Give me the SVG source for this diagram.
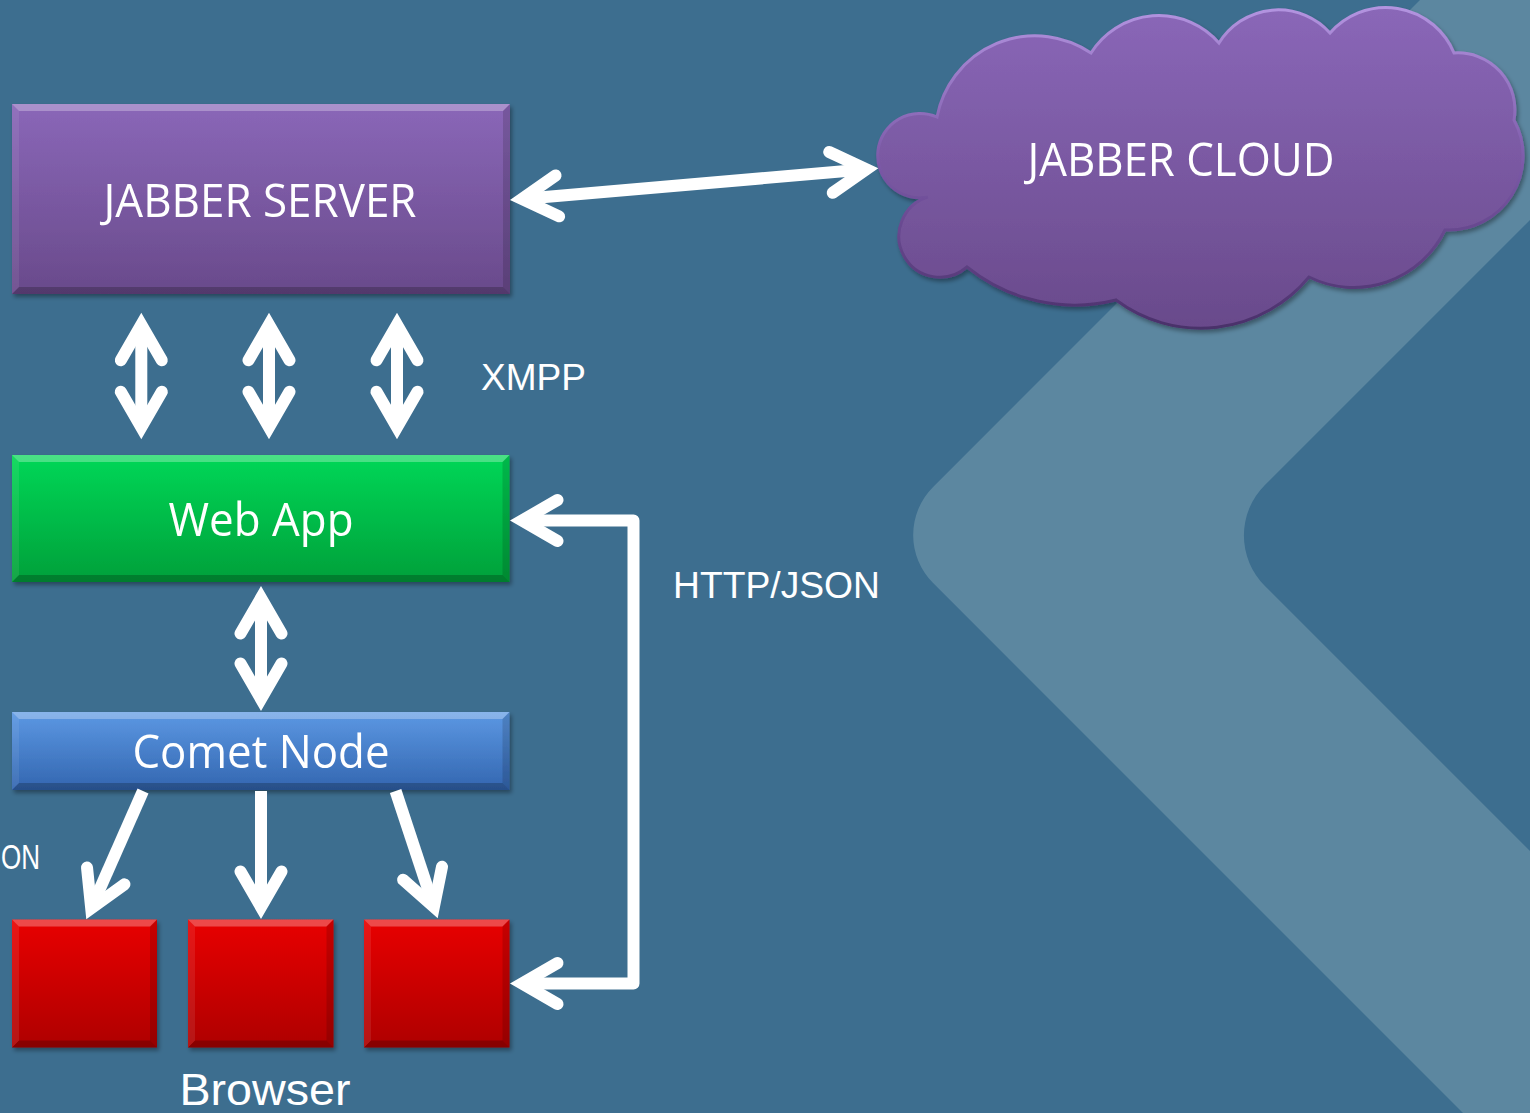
<svg xmlns="http://www.w3.org/2000/svg" width="1530" height="1113" viewBox="0 0 1530 1113">
  <defs>
    <linearGradient id="gPurple" x1="0" y1="0" x2="0" y2="1">
      <stop offset="0" stop-color="#8a67b8"/>
      <stop offset="1" stop-color="#694a8b"/>
    </linearGradient>
    <linearGradient id="gGreen" x1="0" y1="0" x2="0" y2="1">
      <stop offset="0" stop-color="#05d757"/>
      <stop offset="1" stop-color="#06a03a"/>
    </linearGradient>
    <linearGradient id="gBlue" x1="0" y1="0" x2="0" y2="1">
      <stop offset="0" stop-color="#5c98e3"/>
      <stop offset="1" stop-color="#3366b0"/>
    </linearGradient>
    <linearGradient id="gRed" x1="0" y1="0" x2="0" y2="1">
      <stop offset="0" stop-color="#e80505"/>
      <stop offset="1" stop-color="#ae0505"/>
    </linearGradient>
    <linearGradient id="gCloudEdge" x1="0" y1="0" x2="0" y2="1">
      <stop offset="0" stop-color="#b394e0"/>
      <stop offset="0.5" stop-color="#7a58a6"/>
      <stop offset="1" stop-color="#4a306a"/>
    </linearGradient>
    <filter id="shadow" x="-5%" y="-5%" width="110%" height="115%">
      <feDropShadow dx="2" dy="3" stdDeviation="2" flood-color="#000" flood-opacity="0.35"/>
    </filter>
  </defs>
  <style>
    .bg { fill: #3d6e8f; }
    .band { fill: #5c87a0; }
    .hl { fill: #ffffff; fill-opacity: 0.28; }
    .sh { fill: #000000; fill-opacity: 0.22; }
    .sl { fill: #ffffff; fill-opacity: 0.07; }
    .sr { fill: #000000; fill-opacity: 0.14; }
    .lbl { font-family: "Open Sans", "Noto Sans", "DejaVu Sans", sans-serif; fill: #ffffff; text-anchor: middle; }
    .note { font-family: "Liberation Sans", Arial, sans-serif; fill: #ffffff; }
    .shaft { fill: none; stroke: #ffffff; stroke-width: 12; stroke-linecap: butt; stroke-linejoin: round; }
    .head { fill: none; stroke: #ffffff; stroke-width: 12; stroke-linecap: round; stroke-linejoin: miter; stroke-miterlimit: 4; }
  </style>

  <rect class="bg" x="0" y="0" width="1530" height="1113"/>
  <path class="band" d="M1420,0 L933.1,486.9 A68,68 0 0 0 933.1,583.1 L1463,1113 L1530,1113 L1530,851 L1264.7,585.7 A71,71 0 0 1 1264.7,485.3 L1530,220 L1530,0 Z"/>

  <g id="jabber-server" filter="url(#shadow)">
    <rect x="12" y="104" width="498" height="190" fill="url(#gPurple)"/>
    <path class="hl" d="M12,104 H510 L503,111 H19 Z"/>
    <path class="sh" d="M12,294 H510 L503,287 H19 Z"/>
    <path class="sl" d="M12,104 L19,111 V287 L12,294 Z"/>
    <path class="sr" d="M510,104 L503,111 V287 L510,294 Z"/>
    <text class="lbl" x="260" y="216.5" font-size="46" textLength="313" lengthAdjust="spacingAndGlyphs">JABBER SERVER</text>
  </g>

  <g id="jabber-cloud" filter="url(#shadow)">
    <path d="M937,117 A99.8,99.8 0 0 1 1091,53 A80,80 0 0 1 1219,43 A69.5,69.5 0 0 1 1330,33 A73.8,73.8 0 0 1 1454,53 A57,57 0 0 1 1514,120 A74.4,74.4 0 0 1 1445,230 A101,101 0 0 1 1309,277 A140.6,140.6 0 0 1 1116,300 A170.7,170.7 0 0 1 967,267 A41,41 0 1 1 928,197 A42.2,42.2 0 1 1 937,117 Z" fill="url(#gPurple)" stroke="url(#gCloudEdge)" stroke-width="3"/>
    <text class="lbl" x="1181" y="176" font-size="45" textLength="307" lengthAdjust="spacingAndGlyphs">JABBER CLOUD</text>
  </g>

  <g id="web-app" filter="url(#shadow)">
    <rect x="12" y="455" width="497.5" height="127" fill="url(#gGreen)"/>
    <path class="hl" d="M12,455 H509.5 L502.5,462 H19 Z"/>
    <path class="sh" d="M12,582 H509.5 L502.5,575 H19 Z"/>
    <path class="sl" d="M12,455 L19,462 V575 L12,582 Z"/>
    <path class="sr" d="M509.5,455 L502.5,462 V575 L509.5,582 Z"/>
    <text class="lbl" x="261" y="536" font-size="45" textLength="185" lengthAdjust="spacingAndGlyphs">Web App</text>
  </g>

  <g id="comet-node" filter="url(#shadow)">
    <rect x="12" y="712" width="497.5" height="78" fill="url(#gBlue)"/>
    <path class="hl" d="M12,712 H509.5 L502.5,719 H19 Z"/>
    <path class="sh" d="M12,790 H509.5 L502.5,783 H19 Z"/>
    <path class="sl" d="M12,712 L19,719 V783 L12,790 Z"/>
    <path class="sr" d="M509.5,712 L502.5,719 V783 L509.5,790 Z"/>
    <text class="lbl" x="261" y="768" font-size="45" textLength="257" lengthAdjust="spacingAndGlyphs">Comet Node</text>
  </g>

  <g id="browser-1" filter="url(#shadow)">
    <rect x="12" y="919.5" width="145" height="128" fill="url(#gRed)"/>
    <path class="hl" d="M12,919.5 H157 L150,926.5 H19 Z"/>
    <path class="sh" d="M12,1047.5 H157 L150,1040.5 H19 Z"/>
    <path class="sl" d="M12,919.5 L19,926.5 V1040.5 L12,1047.5 Z"/>
    <path class="sr" d="M157,919.5 L150,926.5 V1040.5 L157,1047.5 Z"/>
  </g>
  <g id="browser-2" filter="url(#shadow)">
    <rect x="188" y="919.5" width="145.5" height="128" fill="url(#gRed)"/>
    <path class="hl" d="M188,919.5 H333.5 L326.5,926.5 H195 Z"/>
    <path class="sh" d="M188,1047.5 H333.5 L326.5,1040.5 H195 Z"/>
    <path class="sl" d="M188,919.5 L195,926.5 V1040.5 L188,1047.5 Z"/>
    <path class="sr" d="M333.5,919.5 L326.5,926.5 V1040.5 L333.5,1047.5 Z"/>
  </g>
  <g id="browser-3" filter="url(#shadow)">
    <rect x="364" y="919.5" width="145.5" height="128" fill="url(#gRed)"/>
    <path class="hl" d="M364,919.5 H509.5 L502.5,926.5 H371 Z"/>
    <path class="sh" d="M364,1047.5 H509.5 L502.5,1040.5 H371 Z"/>
    <path class="sl" d="M364,919.5 L371,926.5 V1040.5 L364,1047.5 Z"/>
    <path class="sr" d="M509.5,919.5 L502.5,926.5 V1040.5 L509.5,1047.5 Z"/>
  </g>

  <g id="connectors">
    <!-- Jabber server <-> cloud -->
    <path class="shaft" d="M521.95,198.97 L866.35,169.33"/>
    <path class="head" d="M555.56,175.51 L521.95,198.97 L559.08,216.35"/>
    <path class="head" d="M829.22,151.95 L866.35,169.33 L832.74,192.79"/>

    <!-- XMPP double arrows -->
    <path class="shaft" d="M141.3,324.7 V427.3"/>
    <path class="head" d="M120.8,360.2 L141.3,324.7 L161.8,360.2"/>
    <path class="head" d="M120.8,391.8 L141.3,427.3 L161.8,391.8"/>

    <path class="shaft" d="M269,324.7 V427.3"/>
    <path class="head" d="M248.5,360.2 L269,324.7 L289.5,360.2"/>
    <path class="head" d="M248.5,391.8 L269,427.3 L289.5,391.8"/>

    <path class="shaft" d="M397,324.7 V427.3"/>
    <path class="head" d="M376.5,360.2 L397,324.7 L417.5,360.2"/>
    <path class="head" d="M376.5,391.8 L397,427.3 L417.5,391.8"/>

    <!-- Web App <-> Comet Node -->
    <path class="shaft" d="M261,598 V699"/>
    <path class="head" d="M240.5,633.5 L261,598 L281.5,633.5"/>
    <path class="head" d="M240.5,663.5 L261,699 L281.5,663.5"/>

    <!-- Comet Node -> browsers -->
    <path class="shaft" d="M143,791 L91.2,908.35"/>
    <path class="head" d="M87.03,867.55 L91.2,908.35 L124.45,884.35"/>

    <path class="shaft" d="M261,791 V907"/>
    <path class="head" d="M240.5,871.5 L261,907 L281.5,871.5"/>

    <path class="shaft" d="M395.6,791 L433.88,906.93"/>
    <path class="head" d="M403.14,879.81 L433.88,906.93 L442,866.75"/>

    <!-- HTTP/JSON loop -->
    <path class="shaft" d="M522,520.5 H633.5 V983.5 H522"/>
    <path class="head" d="M557.5,500 L522,520.5 L557.5,541"/>
    <path class="head" d="M557.5,963 L522,983.5 L557.5,1004"/>
  </g>

  <g id="labels">
    <text class="note" x="481" y="390" font-size="37" textLength="105" lengthAdjust="spacingAndGlyphs">XMPP</text>
    <text class="note" x="673" y="598" font-size="37" textLength="207" lengthAdjust="spacingAndGlyphs">HTTP/JSON</text>
    <text class="note" x="1" y="869" font-size="35" textLength="39" lengthAdjust="spacingAndGlyphs">ON</text>
    <text class="note" x="265" y="1105" font-size="45" text-anchor="middle" textLength="171" lengthAdjust="spacingAndGlyphs">Browser</text>
  </g>
</svg>
